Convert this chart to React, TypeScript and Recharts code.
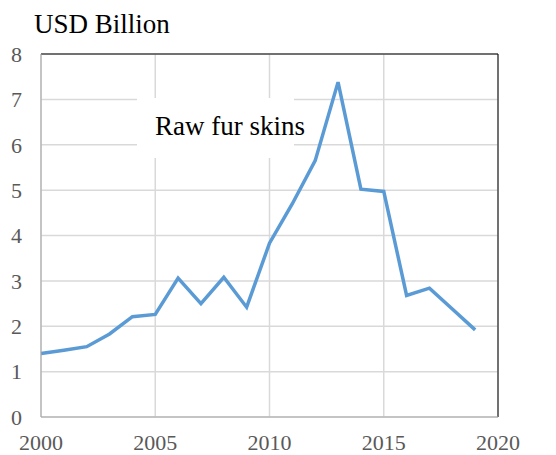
import { LineChart, Line, XAxis, YAxis, CartesianGrid, ReferenceLine } from "recharts";

const years = [2000, 2001, 2002, 2003, 2004, 2005, 2006, 2007, 2008, 2009, 2010, 2011, 2012, 2013, 2014, 2015, 2016, 2017, 2018, 2019];
const rawFurSkins = [1.4, 1.47, 1.55, 1.83, 2.21, 2.26, 3.06, 2.5, 3.08, 2.42, 3.83, 4.7, 5.65, 7.38, 5.02, 4.97, 2.68, 2.84, 2.38, 1.92];
const xTicks = [2000, 2005, 2010, 2015, 2020];
const yTicks = [0, 1, 2, 3, 4, 5, 6, 7, 8];

const data = years.map((year, i) => ({ year, value: rawFurSkins[i] }));

const font = "Liberation Serif, Times New Roman, serif";
const tick = { fontSize: 22, fill: "#595959", fontFamily: font };

export default function App() {
  return (
    <div style={{ position: "absolute", left: 0, top: 0, width: 556, height: 455, background: "#fff", fontFamily: font }}>
      <LineChart
        width={556} height={455} data={data}
        margin={{ top: 54, right: 58, bottom: 0, left: 0 }}
        style={{ fontFamily: font }}
      >
        <CartesianGrid stroke="#d9d9d9" strokeWidth={1.5} />
        <XAxis
          dataKey="year" type="number" domain={[2000, 2020]} ticks={xTicks}
          height={38} tickLine={false} stroke="#a6a6a6" tick={tick} tickMargin={11}
        />
        <YAxis
          type="number" domain={[0, 8]} ticks={yTicks}
          width={41} tickLine={false} stroke="#a6a6a6" tick={tick} tickMargin={13}
        />
        <ReferenceLine y={8} stroke="#000" strokeWidth={1} />
        <ReferenceLine x={2020} stroke="#000" strokeWidth={1} />
        <Line dataKey="value" stroke="#5b9bd5" strokeWidth={3.5} dot={false} isAnimationActive={false} />
      </LineChart>
      <div style={{ position: "absolute", left: 34, top: 9, fontSize: 27, color: "#000", whiteSpace: "nowrap" }}>
        USD Billion
      </div>
      <div style={{ position: "absolute", left: 137, top: 98, width: 157, height: 60, background: "#fff" }} />
      <div style={{ position: "absolute", left: 155, top: 111, fontSize: 27, color: "#000", whiteSpace: "nowrap" }}>
        Raw fur skins
      </div>
    </div>
  );
}
